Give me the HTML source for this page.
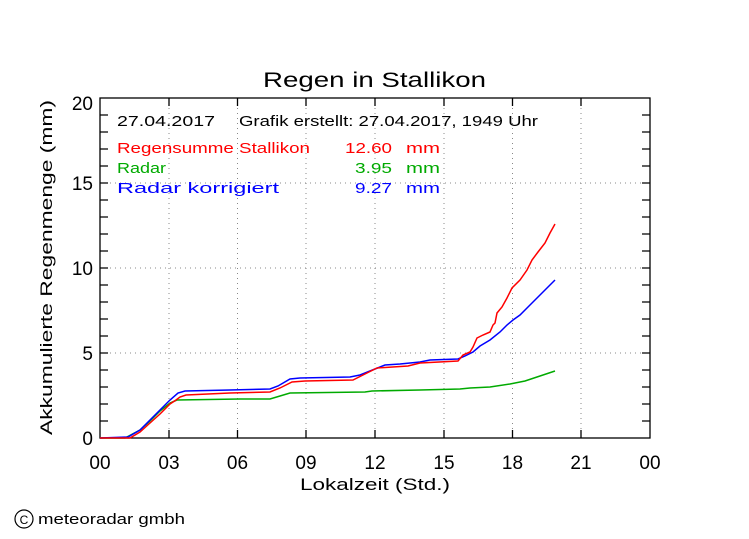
<!DOCTYPE html>
<html><head><style>
body{margin:0;background:#fff;}
svg{display:block;font-family:"Liberation Sans",sans-serif;}
</style></head><body>
<svg width="749" height="539" viewBox="0 0 749 539">
<rect width="749" height="539" fill="#fff"/>
<text x="263" y="87" font-size="21" textLength="223" lengthAdjust="spacingAndGlyphs">Regen in Stallikon</text>
<g stroke="#888" stroke-dasharray="1,4" stroke-width="1">
<line x1="169" y1="98" x2="169" y2="438"/><line x1="237.5" y1="98" x2="237.5" y2="438"/><line x1="306" y1="98" x2="306" y2="438"/><line x1="375" y1="98" x2="375" y2="438"/><line x1="444" y1="98" x2="444" y2="438"/><line x1="512.5" y1="98" x2="512.5" y2="438"/><line x1="581" y1="98" x2="581" y2="438"/>
<line x1="100" y1="353" x2="650" y2="353"/><line x1="100" y1="268" x2="650" y2="268"/><line x1="100" y1="183" x2="650" y2="183"/>
</g>
<g stroke="#000" stroke-width="1.3" fill="none">
<rect x="100" y="98" width="550" height="340"/>
<path d="M100 421h8M100 404h8M100 387h8M100 370h8M100 353h8M100 336h8M100 319h8M100 302h8M100 285h8M100 268h8M100 251h8M100 234h8M100 217h8M100 200h8M100 183h8M100 166h8M100 149h8M100 132h8M100 115h8
M650 421h-8M650 404h-8M650 387h-8M650 370h-8M650 353h-8M650 336h-8M650 319h-8M650 302h-8M650 285h-8M650 268h-8M650 251h-8M650 234h-8M650 217h-8M650 200h-8M650 183h-8M650 166h-8M650 149h-8M650 132h-8M650 115h-8
M169 438v-8M237.5 438v-8M306 438v-8M375 438v-8M444 438v-8M512.5 438v-8M581 438v-8
M169 98v8M237.5 98v8M306 98v8M375 98v8M444 98v8M512.5 98v8M581 98v8"/>
</g>
<g font-size="19" text-anchor="end">
<text x="93" y="445">0</text><text x="93" y="360">5</text><text x="93" y="275">10</text><text x="93" y="190">15</text><text x="93" y="110">20</text>
</g>
<g font-size="19" text-anchor="middle">
<text x="100" y="469">00</text><text x="169" y="469">03</text><text x="237.5" y="469">06</text><text x="306" y="469">09</text><text x="375" y="469">12</text><text x="444" y="469">15</text><text x="512.5" y="469">18</text><text x="581" y="469">21</text><text x="650" y="469">00</text>
</g>
<text x="300" y="490" font-size="17" textLength="150" lengthAdjust="spacingAndGlyphs">Lokalzeit (Std.)</text>
<text transform="translate(52,435) rotate(-90)" font-size="17" textLength="335" lengthAdjust="spacingAndGlyphs">Akkumulierte Regenmenge (mm)</text>
<g font-size="15">
<text x="117" y="126" textLength="98" lengthAdjust="spacingAndGlyphs">27.04.2017</text><text x="239" y="126" textLength="299" lengthAdjust="spacingAndGlyphs">Grafik erstellt: 27.04.2017, 1949 Uhr</text>
<text x="117" y="153" fill="#f00" textLength="193" lengthAdjust="spacingAndGlyphs">Regensumme Stallikon</text><text x="345" y="153" fill="#f00" textLength="47" lengthAdjust="spacingAndGlyphs">12.60</text><text x="406" y="153" fill="#f00" textLength="34" lengthAdjust="spacingAndGlyphs">mm</text>
<text x="117" y="173" fill="#0a0" textLength="49" lengthAdjust="spacingAndGlyphs">Radar</text><text x="355" y="173" fill="#0a0" textLength="37" lengthAdjust="spacingAndGlyphs">3.95</text><text x="406" y="173" fill="#0a0" textLength="34" lengthAdjust="spacingAndGlyphs">mm</text>
<text x="117" y="193" fill="#00f" textLength="162" lengthAdjust="spacingAndGlyphs">Radar korrigiert</text><text x="355" y="193" fill="#00f" textLength="37" lengthAdjust="spacingAndGlyphs">9.27</text><text x="406" y="193" fill="#00f" textLength="34" lengthAdjust="spacingAndGlyphs">mm</text>
</g>
<g fill="none" stroke-width="1.5">
<polyline stroke="#0a0" points="100,438 125,438 140,430 150,421 160,411 170,403 177,400 240,399 270,399 280,396 290,393 365,392 372,391 420,390 460,389 470,388 490,387 510,384 525,381 540,376 555,371"/>
<polyline stroke="#00f" points="100,438 128,437 140,430 150,420 160,410 170,400 178,393 185,391 230,390 270,389 278,386 290,379 300,378 350,377 360,375 375,369 385,365 400,364 420,362 430,360 458,359 465,356 473,352 480,346 490,340 500,332 507,325 513,320 520,315 528,307 537,298 547,288 555,280"/>
<polyline stroke="#f00" points="100,438 130,438 140,432 150,423 160,414 170,404 176,400 180,397 186,395 230,393 270,392 280,388 292,382 305,381 353,380 365,374 377,368 408,366 420,363 458,361 463,355 470,352 473,347 477,338 483,335 490,332 493,325 495,323 497,313 502,307 507,298 512,288 520,280 527,270 532,260 538,252 545,243 550,233 555,224"/>
</g>
<circle cx="24" cy="519" r="9" fill="none" stroke="#000" stroke-width="1.2"/>
<text x="24" y="524" font-size="12" text-anchor="middle">C</text>
<text x="38" y="524" font-size="15" textLength="147" lengthAdjust="spacingAndGlyphs">meteoradar gmbh</text>
</svg>
</body></html>
